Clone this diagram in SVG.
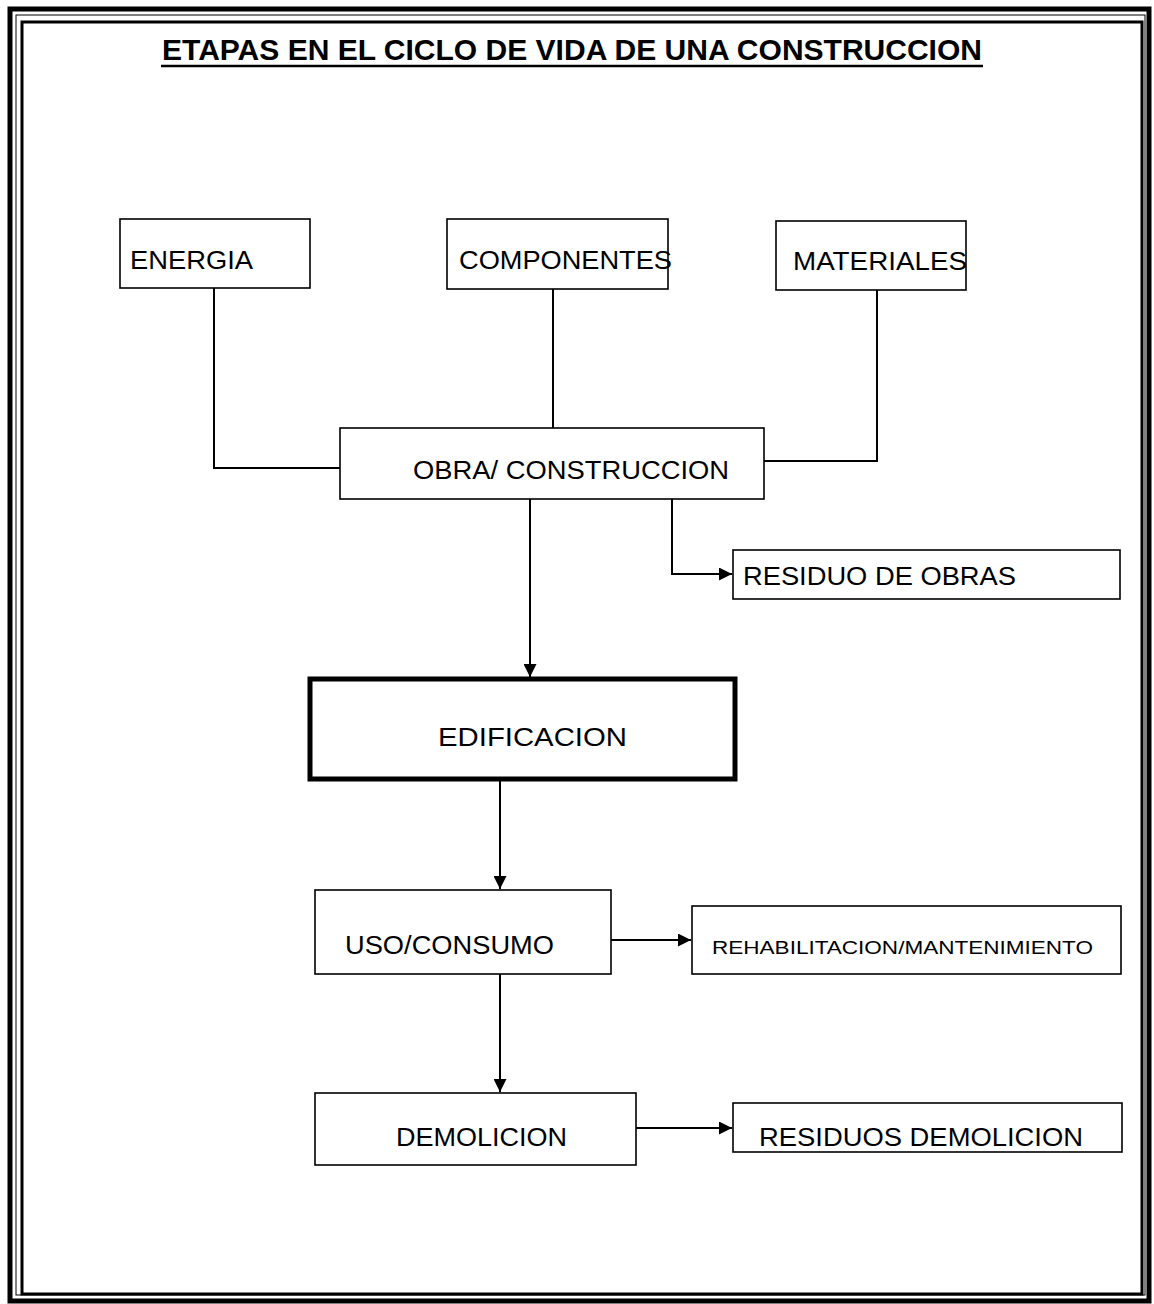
<svg xmlns="http://www.w3.org/2000/svg" width="1154" height="1304" viewBox="0 0 1154 1304">
<style>
.box{fill:#fff;stroke:#000;stroke-width:1.6}
.thick{fill:#fff;stroke:#000;stroke-width:5}
.t{font-family:"Liberation Sans",Arial,sans-serif;font-size:25px;fill:#000}
.s{font-family:"Liberation Sans",Arial,sans-serif;font-size:19px;fill:#000}
.c{fill:none;stroke:#000;stroke-width:2}
</style>
<defs>
<marker id="ah" viewBox="0 0 10 10" refX="10" refY="5" markerWidth="14" markerHeight="13" markerUnits="userSpaceOnUse" orient="auto">
<path d="M0,0 L10,5 L0,10 z" fill="#000"/>
</marker>
</defs>
<rect width="1154" height="1304" fill="#fff"/>
<g id="border">
<rect x="10" y="9" width="1139" height="1292" fill="none" stroke="#000" stroke-width="5"/>
<rect x="16" y="15" width="1129" height="1280" fill="none" stroke="#000" stroke-width="1"/>
<rect x="22" y="22" width="1120" height="1272" fill="none" stroke="#000" stroke-width="3"/>
</g>
<g id="title">
<text x="162" y="60" font-family="Liberation Sans,Arial,sans-serif" font-weight="bold" font-size="30" textLength="820" lengthAdjust="spacingAndGlyphs">ETAPAS EN EL CICLO DE VIDA DE UNA CONSTRUCCION</text>
<line x1="161" y1="66" x2="983" y2="66" stroke="#000" stroke-width="2.5"/>
</g>
<g id="connectors">
<polyline class="c" points="214,288 214,468 340,468"/>
<line class="c" x1="553" y1="289" x2="553" y2="428"/>
<polyline class="c" points="877,290 877,461 764,461"/>
<line class="c" x1="530" y1="499" x2="530" y2="677" marker-end="url(#ah)"/>
<polyline class="c" points="672,499 672,574 732,574" marker-end="url(#ah)"/>
<line class="c" x1="500" y1="781" x2="500" y2="889" marker-end="url(#ah)"/>
<line class="c" x1="611" y1="940" x2="691" y2="940" marker-end="url(#ah)"/>
<line class="c" x1="500" y1="974" x2="500" y2="1092" marker-end="url(#ah)"/>
<line class="c" x1="636" y1="1128" x2="732" y2="1128" marker-end="url(#ah)"/>
</g>
<g id="energia">
<rect class="box" x="120" y="219" width="190" height="69"/>
<text class="t" x="130" y="269" textLength="123" lengthAdjust="spacingAndGlyphs">ENERGIA</text>
</g>
<g id="componentes">
<rect class="box" x="447" y="219" width="221" height="70"/>
<text class="t" x="459" y="269" textLength="213" lengthAdjust="spacingAndGlyphs">COMPONENTES</text>
</g>
<g id="materiales">
<rect class="box" x="776" y="221" width="190" height="69"/>
<text class="t" x="793" y="270" textLength="174" lengthAdjust="spacingAndGlyphs">MATERIALES</text>
</g>
<g id="obra">
<rect class="box" x="340" y="428" width="424" height="71"/>
<text class="t" x="413" y="479" textLength="316" lengthAdjust="spacingAndGlyphs">OBRA/ CONSTRUCCION</text>
</g>
<g id="residuo-obras">
<rect class="box" x="733" y="550" width="387" height="49"/>
<text class="t" x="743" y="585" textLength="273" lengthAdjust="spacingAndGlyphs">RESIDUO DE OBRAS</text>
</g>
<g id="edificacion">
<rect class="thick" x="310" y="679" width="425" height="100"/>
<text class="t" x="438" y="746" textLength="189" lengthAdjust="spacingAndGlyphs">EDIFICACION</text>
</g>
<g id="uso">
<rect class="box" x="315" y="890" width="296" height="84"/>
<text class="t" x="345" y="954" textLength="209" lengthAdjust="spacingAndGlyphs">USO/CONSUMO</text>
</g>
<g id="rehab">
<rect class="box" x="692" y="906" width="429" height="68"/>
<text class="s" x="712" y="954" textLength="381" lengthAdjust="spacingAndGlyphs">REHABILITACION/MANTENIMIENTO</text>
</g>
<g id="demolicion">
<rect class="box" x="315" y="1093" width="321" height="72"/>
<text class="t" x="396" y="1146" textLength="171" lengthAdjust="spacingAndGlyphs">DEMOLICION</text>
</g>
<g id="residuos-demolicion">
<rect class="box" x="733" y="1103" width="389" height="49"/>
<text class="t" x="759" y="1146" textLength="324" lengthAdjust="spacingAndGlyphs">RESIDUOS DEMOLICION</text>
</g>
</svg>
